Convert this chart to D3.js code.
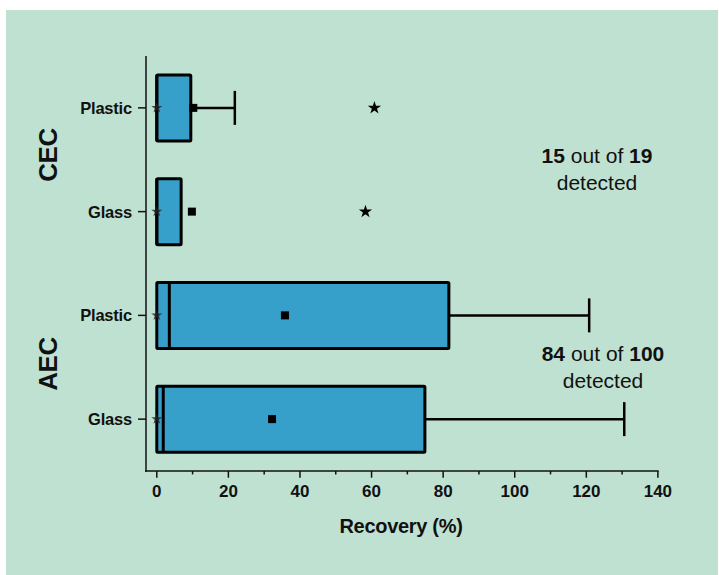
<!DOCTYPE html>
<html>
<head>
<meta charset="utf-8">
<script src="https://cdn.jsdelivr.net/npm/d3@7"></script>
<style>
  html, body { margin: 0; padding: 0; background: #ffffff; }
  svg { display: block; font-family: "Liberation Sans", Arial, sans-serif; }
</style>
</head>
<body>
<svg id="chart" width="719" height="575"></svg>
<script>
// Rows, top to bottom
const rowIds    = ["CEC-Plastic", "CEC-Glass", "AEC-Plastic", "AEC-Glass"];
const rowLabels = ["Plastic", "Glass", "Plastic", "Glass"];
const rowGroups = ["CEC", "CEC", "AEC", "AEC"];
const groups    = ["CEC", "AEC"];

// Recovery (%) statistics per row
const q1Values      = [0, 0, 0, 0];
const medianValues  = [0, 0, 3.5, 1.8];
const q3Values      = [9.5, 6.8, 81.6, 74.9];
const whiskerHigh   = [21.8, null, 120.8, 130.6];
const meanValues    = [10.2, 9.8, 35.8, 32.2];
const minValues     = [0, 0, 0, 0];
const outlierValues = [60.8, 58.3, null, null];

// Detection counts per group
const detected = [15, 84];
const totals   = [19, 100];

const xTicks = [0, 20, 40, 60, 80, 100, 120, 140];
const xMinorTicks = d3.range(10, 140, 20);

const svg = d3.select("#chart");
const W = 719, H = 575;

svg.append("rect")
  .attr("x", 6).attr("y", 10)
  .attr("width", W - 7).attr("height", H - 10)
  .attr("fill", "#bfe1d2");

const plot = { left: 146, right: 658, top: 56, bottom: 471 };

const x = d3.scaleLinear().domain([0, 140]).range([156.8, 657.9]);
const y = d3.scalePoint().domain(rowIds).range([plot.top, plot.bottom]).padding(0.5);
const boxH = 66, capH = 34;

const rows = rowIds.map((id, i) => ({
  id, label: rowLabels[i], group: rowGroups[i],
  q1: q1Values[i], med: medianValues[i], q3: q3Values[i],
  hi: whiskerHigh[i], mean: meanValues[i], min: minValues[i], out: outlierValues[i]
}));

const g = svg.append("g");

// Whiskers
const wrows = rows.filter(d => d.hi != null);
g.selectAll("line.whisker").data(wrows).join("line")
  .attr("x1", d => x(d.q3)).attr("x2", d => x(d.hi))
  .attr("y1", d => y(d.id)).attr("y2", d => y(d.id))
  .attr("stroke", "#000").attr("stroke-width", 2.5);
g.selectAll("line.cap").data(wrows).join("line")
  .attr("x1", d => x(d.hi)).attr("x2", d => x(d.hi))
  .attr("y1", d => y(d.id) - capH / 2).attr("y2", d => y(d.id) + capH / 2)
  .attr("stroke", "#000").attr("stroke-width", 2.5);

// Boxes
g.selectAll("rect.box").data(rows).join("rect")
  .attr("x", d => x(d.q1)).attr("width", d => x(d.q3) - x(d.q1))
  .attr("y", d => y(d.id) - boxH / 2).attr("height", boxH)
  .attr("fill", "#36a0cb").attr("stroke", "#000").attr("stroke-width", 3)
  .attr("rx", 1);

// Medians
g.selectAll("line.median").data(rows).join("line")
  .attr("x1", d => x(d.med)).attr("x2", d => x(d.med))
  .attr("y1", d => y(d.id) - boxH / 2).attr("y2", d => y(d.id) + boxH / 2)
  .attr("stroke", "#000").attr("stroke-width", 3);

// Means
g.selectAll("rect.mean").data(rows).join("rect")
  .attr("x", d => x(d.mean) - 4).attr("y", d => y(d.id) - 4)
  .attr("width", 8).attr("height", 8).attr("fill", "#000");

// Minimum and maximum markers
const star = d3.symbol().type(d3.symbolStar);
g.selectAll("path.min").data(rows).join("path")
  .attr("d", star.size(38)())
  .attr("transform", d => `translate(${x(d.min)},${y(d.id)})`)
  .attr("fill", "#222").attr("opacity", 0.8);
g.selectAll("path.out").data(rows.filter(d => d.out != null)).join("path")
  .attr("d", star.size(55)())
  .attr("transform", d => `translate(${x(d.out)},${y(d.id)})`)
  .attr("fill", "#000");

// Axes
const axisG = svg.append("g");
axisG.append("line")
  .attr("x1", plot.left).attr("x2", plot.left)
  .attr("y1", plot.top).attr("y2", plot.bottom + 0.75)
  .attr("stroke", "#111").attr("stroke-width", 1.5);
axisG.append("line")
  .attr("x1", plot.left - 1).attr("x2", x(140) + 0.75)
  .attr("y1", plot.bottom).attr("y2", plot.bottom)
  .attr("stroke", "#111").attr("stroke-width", 1.5);

axisG.selectAll("line.xt").data(xTicks).join("line")
  .attr("x1", d => x(d)).attr("x2", d => x(d))
  .attr("y1", plot.bottom).attr("y2", plot.bottom + 6.7)
  .attr("stroke", "#111").attr("stroke-width", 1.5);
axisG.selectAll("line.xm").data(xMinorTicks).join("line")
  .attr("x1", d => x(d)).attr("x2", d => x(d))
  .attr("y1", plot.bottom).attr("y2", plot.bottom + 3.4)
  .attr("stroke", "#111").attr("stroke-width", 1.5);
axisG.selectAll("text.xl").data(xTicks).join("text")
  .attr("x", d => x(d)).attr("y", 497.3)
  .attr("text-anchor", "middle")
  .attr("font-size", 17).attr("font-weight", "bold").attr("fill", "#111")
  .text(d => d);

axisG.selectAll("line.yt").data(rows).join("line")
  .attr("x1", plot.left - 8).attr("x2", plot.left)
  .attr("y1", d => y(d.id)).attr("y2", d => y(d.id))
  .attr("stroke", "#111").attr("stroke-width", 1.5);
axisG.selectAll("text.yl").data(rows).join("text")
  .attr("x", 132).attr("y", d => y(d.id) + 6)
  .attr("text-anchor", "end")
  .attr("font-size", 16.5).attr("font-weight", "bold").attr("fill", "#111")
  .attr("letter-spacing", -0.2)
  .text(d => d.label);

// Group labels
const groupCenters = { CEC: 155, AEC: 364 };
groups.forEach(grp => {
  svg.append("text")
    .attr("transform", `translate(${56.5},${groupCenters[grp]}) rotate(-90)`)
    .attr("text-anchor", "middle")
    .attr("font-size", 26).attr("font-weight", "bold").attr("fill", "#111")
    .attr("letter-spacing", -0.5)
    .text(grp);
});

svg.append("text")
  .attr("x", 401).attr("y", 532.7)
  .attr("text-anchor", "middle")
  .attr("font-size", 20).attr("font-weight", "bold").attr("fill", "#111")
  .attr("letter-spacing", -0.3)
  .text("Recovery (%)");

// Detection annotations
const notePos = [[597, 162.7], [603, 360.7]];
groups.forEach((grp, i) => {
  const [nx, ny] = notePos[i];
  const t = svg.append("text")
    .attr("x", nx).attr("y", ny)
    .attr("text-anchor", "middle")
    .attr("font-size", 21).attr("fill", "#111");
  t.append("tspan").attr("font-weight", "bold").text(detected[i]);
  t.append("tspan").text(" out of ");
  t.append("tspan").attr("font-weight", "bold").text(totals[i]);
  svg.append("text")
    .attr("x", nx).attr("y", ny + 27.6)
    .attr("text-anchor", "middle")
    .attr("font-size", 21).attr("fill", "#111")
    .text("detected");
});
</script>
</body>
</html>
